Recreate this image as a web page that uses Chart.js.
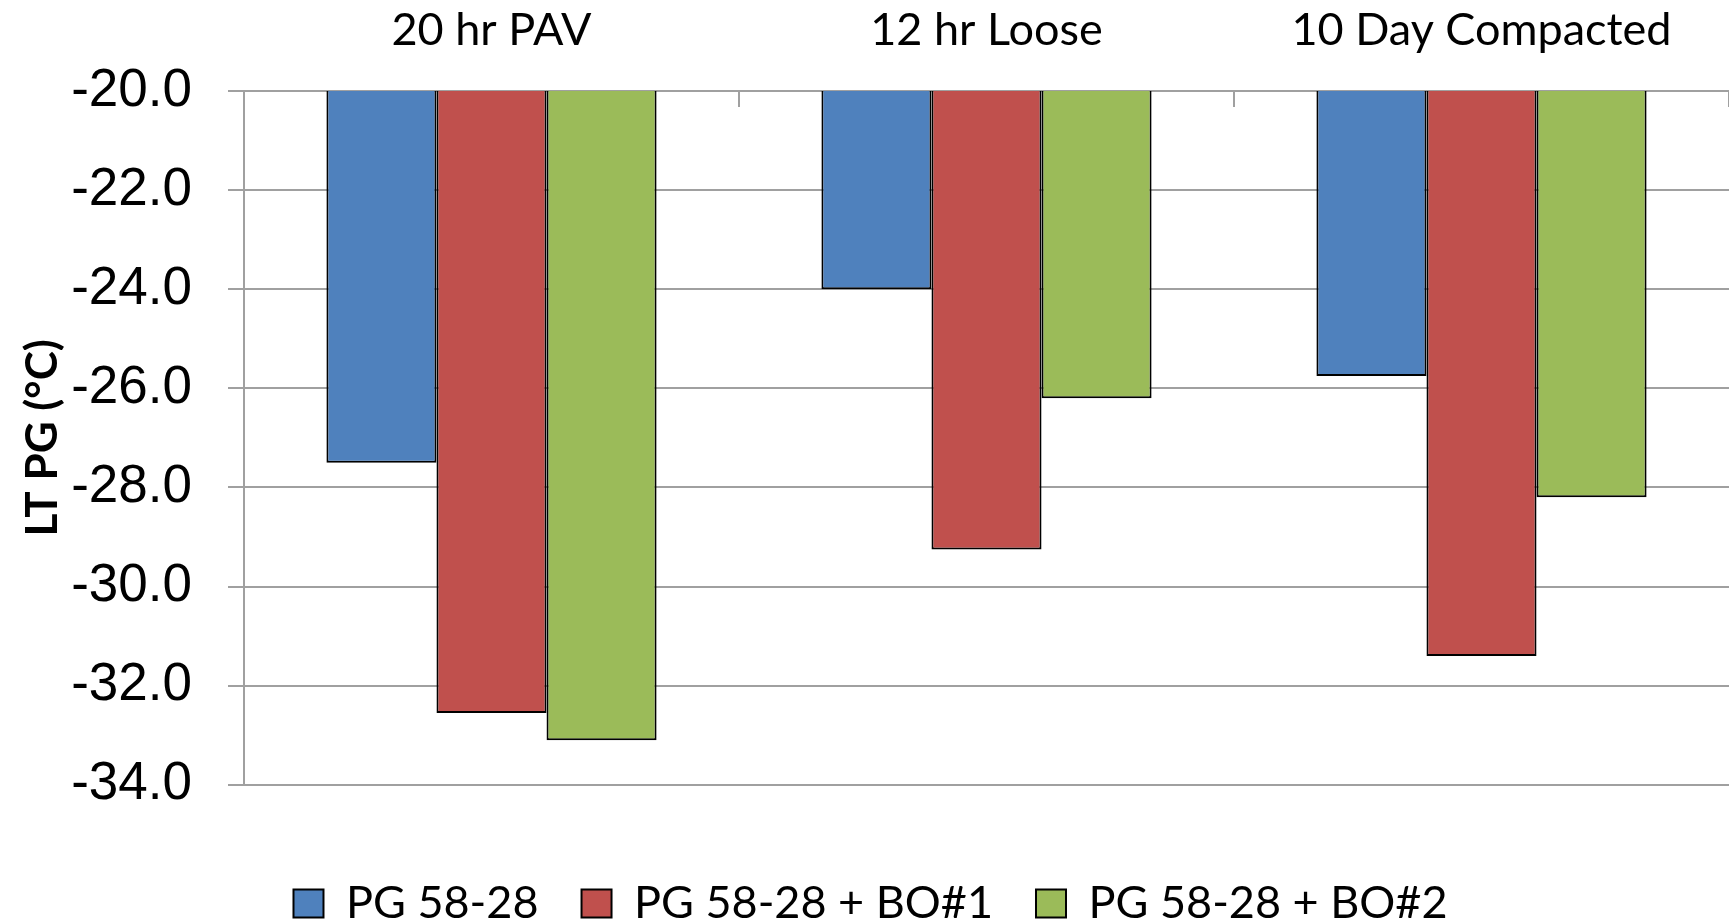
<!DOCTYPE html>
<html>
<head>
<meta charset="utf-8">
<script src="https://cdn.jsdelivr.net/npm/chart.js@4.4.0/dist/chart.umd.min.js"></script>
<style>
  html, body { margin: 0; padding: 0; background: #fff; overflow: hidden; }
</style>
</head>
<body>
<canvas id="chart" width="1729" height="921"></canvas>
<script>
// values (LT PG, deg C)
const categories = ['20 hr PAV', '12 hr Loose', '10 Day Compacted'];
const seriesNames = ['PG 58-28', 'PG 58-28 + BO#1', 'PG 58-28 + BO#2'];
const pg5828 = [-27.5, -24.0, -25.75];
const pgBo1 = [-32.55, -29.25, -31.4];
const pgBo2 = [-33.1, -26.2, -28.2];
const yMin = -34;
const yMax = -20;

const colors = ['#4F81BD', '#C0504D', '#9BBB59'];
const gridColor = '#a0a0a0';

const makeSet = (label, data, color) => ({
    label: label,
    data: data,
    backgroundColor: color,
    borderColor: '#000',
    borderWidth: 2,
    categoryPercentage: 0.667,
    barPercentage: 1.0
});

const ctx = document.getElementById('chart').getContext('2d');
const chart = new Chart(ctx, {
    type: 'bar',
    data: {
        labels: categories,
        datasets: [
            makeSet(seriesNames[0], pg5828, colors[0]),
            makeSet(seriesNames[1], pgBo1, colors[1]),
            makeSet(seriesNames[2], pgBo2, colors[2])
        ]
    },
    options: {
        responsive: false,
        animation: false,
        layout: { padding: { left: 12, right: 0, top: 0, bottom: -15 } },
        plugins: {
            tooltip: { enabled: false },
            legend: {
                position: 'bottom',
                // empty title only used as a spacer above the legend row
                title: { display: true, text: '', font: { size: 1 }, padding: { top: 0, bottom: 52 } },
                labels: {
                    boxWidth: 30,
                    boxHeight: 28,
                    padding: 43,
                    color: '#000',
                    font: { family: 'Lato', size: 45 }
                }
            }
        },
        scales: {
            x: {
                position: 'top',
                afterFit: (scale) => { scale.height = 91; },
                grid: {
                    drawOnChartArea: false,
                    drawTicks: true,
                    tickLength: -16,
                    color: gridColor,
                    lineWidth: 2
                },
                border: { color: gridColor, width: 2 },
                ticks: {
                    color: '#000',
                    padding: 50,
                    font: { family: 'Lato', size: 45 }
                }
            },
            y: {
                min: yMin,
                max: yMax,
                afterFit: (scale) => { scale.width = 232; },
                grid: { color: gridColor, lineWidth: 2, tickLength: 16 },
                border: { color: gridColor, width: 2 },
                ticks: {
                    stepSize: 2,
                    padding: 36,
                    color: '#000',
                    font: { family: 'Liberation Sans', size: 53 },
                    callback: (v) => v.toFixed(1)
                },
                title: {
                    display: true,
                    text: 'LT PG (°C)',
                    color: '#000',
                    font: { family: 'Lato', size: 44, weight: 'bold' }
                }
            }
        }
    }
});
</script>
</body>
</html>
